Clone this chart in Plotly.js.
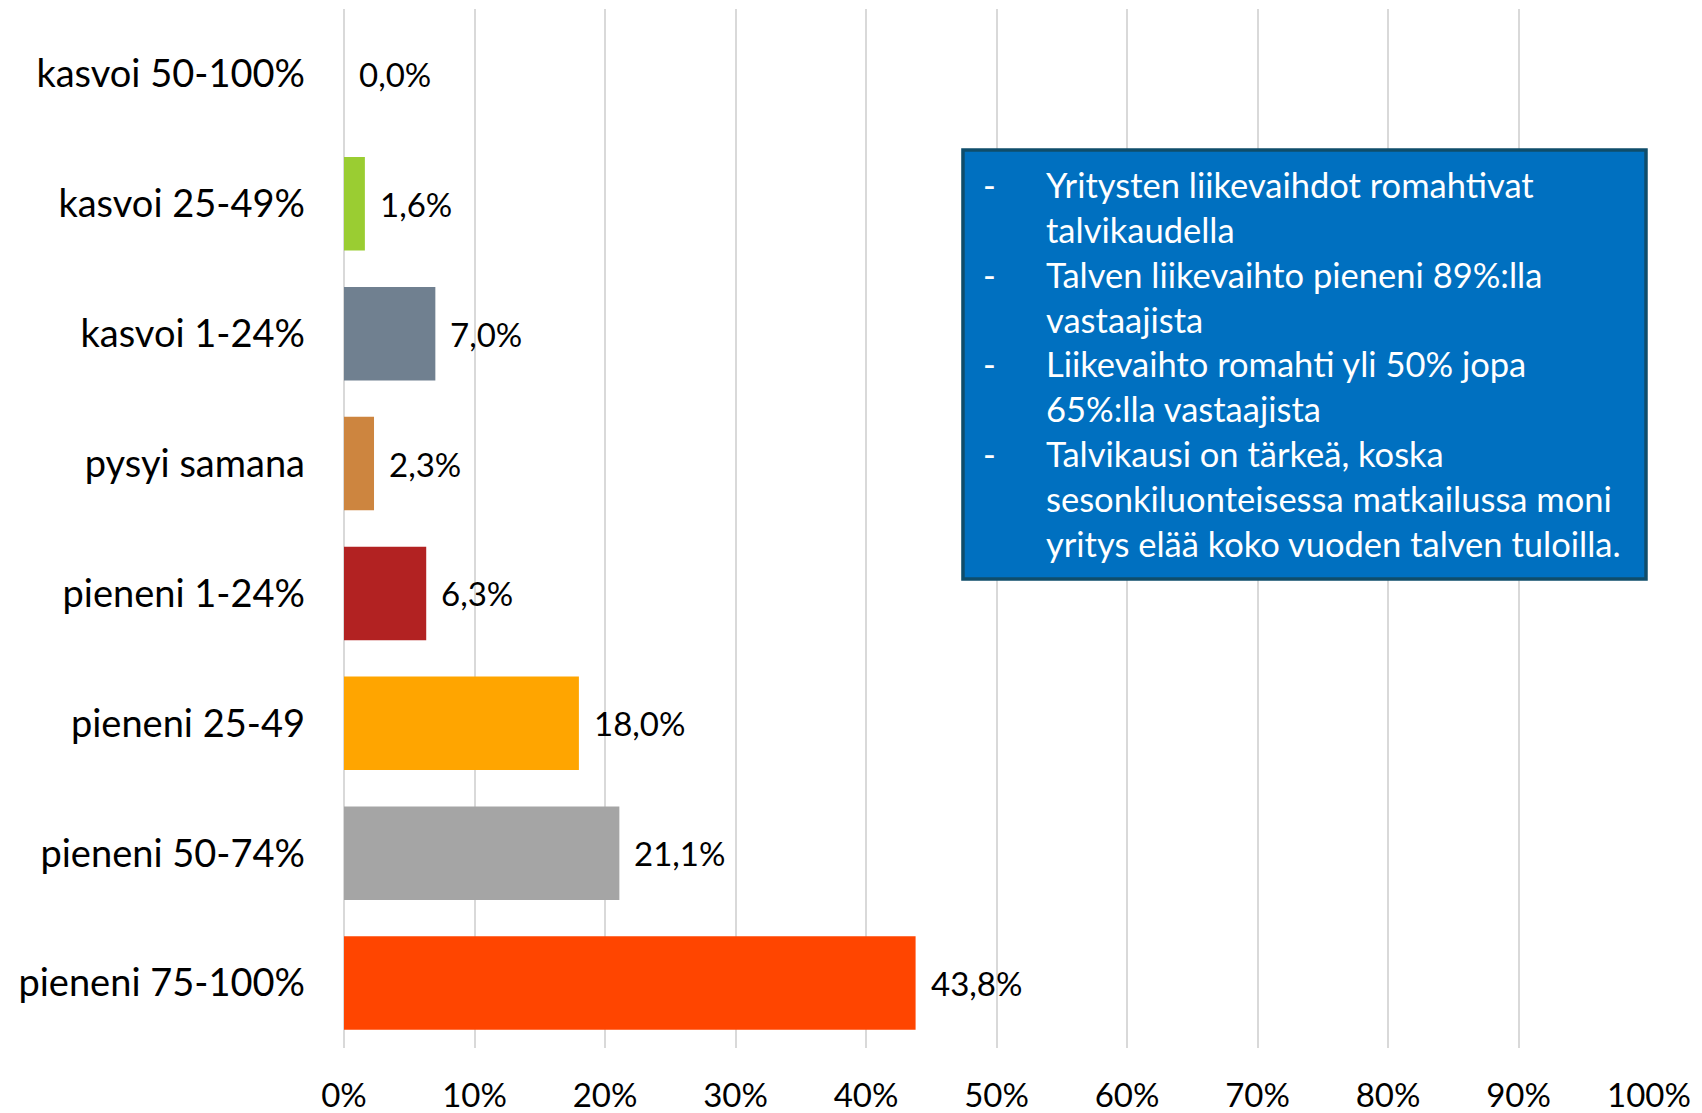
<!DOCTYPE html>
<html>
<head>
<meta charset="utf-8">
<script src="https://cdn.plot.ly/plotly-3.0.1.min.js"></script>
<style>html,body{margin:0;padding:0;background:#fff;}#chart{width:1702px;height:1113px;}</style>
</head>
<body>
<div id="chart"></div>
<script>
const categories = ["kasvoi 50-100%", "kasvoi 25-49%", "kasvoi 1-24%", "pysyi samana", "pieneni 1-24%", "pieneni 25-49", "pieneni 50-74%", "pieneni 75-100%"];
const values = [0.0, 1.6, 7.0, 2.3, 6.3, 18.0, 21.1, 43.8];
const labels = ["0,0%", "1,6%", "7,0%", "2,3%", "6,3%", "18,0%", "21,1%", "43,8%"];
const colors = ["#9ACD32", "#9ACD32", "#708090", "#CD853F", "#B22222", "#FFA500", "#A5A5A5", "#FF4500"];
const tickVals = [0, 10, 20, 30, 40, 50, 60, 70, 80, 90, 100];
const tickText = ["0%", "10%", "20%", "30%", "40%", "50%", "60%", "70%", "80%", "90%", "100%"];
const boxLines = [
  "Yritysten liikevaihdot romahtivat",
  "talvikaudella",
  "Talven liikevaihto pieneni 89%:lla",
  "vastaajista",
  "Liikevaihto romahti yli 50% jopa",
  "65%:lla vastaajista",
  "Talvikausi on tärkeä, koska",
  "sesonkiluonteisessa matkailussa moni",
  "yritys elää koko vuoden talven tuloilla."
];
const bulletStarts = [true, false, true, false, true, false, true, false, false];

const FONT = "Lato, 'Open Sans', sans-serif";

const trace = {
  type: "bar",
  orientation: "h",
  y: categories,
  x: values,
  marker: {color: colors},
  hoverinfo: "skip",
  cliponaxis: false
};

const annotations = categories.map((c, i) => ({
  x: values[i], y: c, xref: "x", yref: "y",
  text: labels[i], showarrow: false,
  xanchor: "left", yanchor: "middle", xshift: 13,
  font: {family: FONT, size: 33, color: "#000"}
}));

annotations.push({
  xref: "paper", yref: "paper", x: 0.5364, y: 0.6587,
  xanchor: "left", yanchor: "middle", align: "left",
  text: boxLines.join("<br>"), showarrow: false,
  font: {family: FONT, size: 34.5, color: "#fff"}
});
annotations.push({
  xref: "paper", yref: "paper", x: 0.4885, y: 0.6587,
  xanchor: "left", yanchor: "middle", align: "left",
  text: bulletStarts.map(b => b ? "-" : "\u00a0").join("<br>"), showarrow: false,
  font: {family: FONT, size: 34.5, color: "#fff"}
});

const layout = {
  width: 1702, height: 1113,
  margin: {l: 344, r: 53, t: 9, b: 65, pad: 0},
  paper_bgcolor: "#fff", plot_bgcolor: "#fff",
  showlegend: false,
  bargap: 0.28,
  font: {family: FONT, color: "#000"},
  xaxis: {
    range: [0, 100], tickvals: tickVals, ticktext: tickText,
    showgrid: true, gridcolor: "#D9D9D9", gridwidth: 2,
    zeroline: true, zerolinecolor: "#D9D9D9", zerolinewidth: 2,
    showline: false, ticks: "",
    ticklabelstandoff: 25,
    tickfont: {family: FONT, size: 33, color: "#000"},
    fixedrange: true
  },
  yaxis: {
    autorange: "reversed", type: "category",
    showgrid: false, zeroline: false, showline: false, ticks: "",
    ticklabelstandoff: 38,
    tickfont: {family: FONT, size: 38, color: "#000"},
    fixedrange: true
  },
  shapes: [{
    type: "rect", xref: "paper", yref: "paper",
    x0: 0.4743, x1: 0.9977, y0: 0.4514, y1: 0.8643,
    fillcolor: "#0070C0", line: {color: "#0F4D6B", width: 3.5},
    layer: "above"
  }],
  annotations: annotations
};

Plotly.newPlot("chart", [trace], layout, {displayModeBar: false, staticPlot: true});
</script>
</body>
</html>
